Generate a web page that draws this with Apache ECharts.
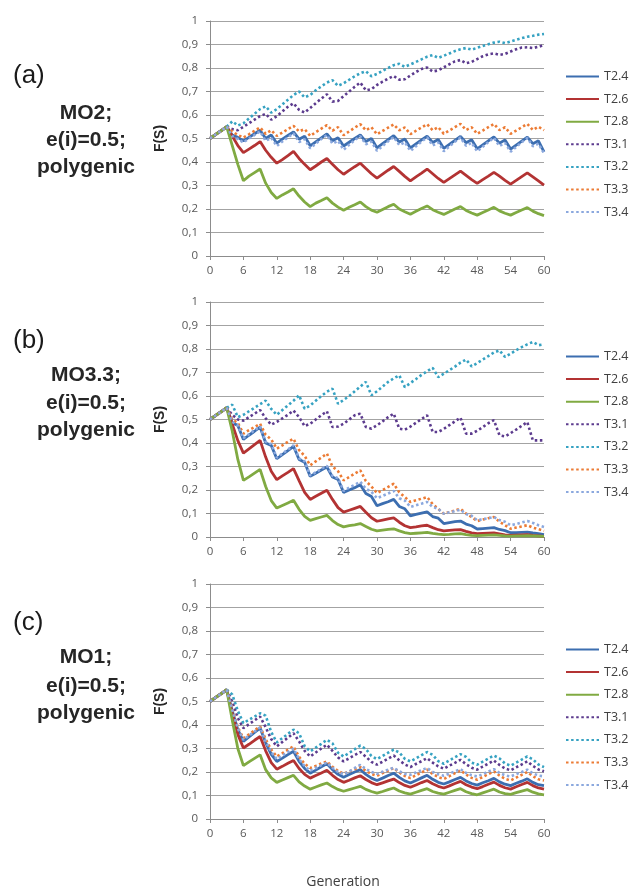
<!DOCTYPE html>
<html>
<head>
<meta charset="utf-8">
<script src="https://cdn.jsdelivr.net/npm/echarts@6/dist/echarts.min.js"></script>
<style>
  html, body { margin: 0; padding: 0; background: #fff; }
  #chart { width: 630px; height: 889px; }
</style>
</head>
<body>
<div id="chart"></div>
<script>
// series names, x ticks
const seriesNames = ['T2.4', 'T2.6', 'T2.8', 'T3.1', 'T3.2', 'T3.3', 'T3.4'];
const genTicks = [0, 6, 12, 18, 24, 30, 36, 42, 48, 54, 60];

// ---- (a) MO2 ----
const mo2_T24 = [0.5,0.517,0.533,0.55,0.515,0.505,0.49,0.505,0.52,0.535,0.5,0.515,0.48,0.497,0.513,0.528,0.497,0.51,0.469,0.486,0.503,0.52,0.49,0.503,0.468,0.484,0.5,0.515,0.487,0.5,0.46,0.478,0.495,0.512,0.485,0.498,0.46,0.477,0.494,0.51,0.483,0.496,0.458,0.475,0.492,0.509,0.482,0.495,0.456,0.473,0.49,0.507,0.48,0.494,0.455,0.472,0.489,0.506,0.478,0.49,0.443];
const mo2_T26 = [0.5,0.517,0.533,0.55,0.51,0.47,0.44,0.455,0.47,0.487,0.45,0.42,0.395,0.41,0.427,0.445,0.415,0.39,0.367,0.383,0.4,0.415,0.39,0.367,0.348,0.364,0.38,0.395,0.372,0.35,0.331,0.348,0.365,0.381,0.36,0.339,0.32,0.337,0.353,0.37,0.35,0.33,0.313,0.329,0.345,0.361,0.343,0.325,0.309,0.325,0.34,0.356,0.34,0.322,0.306,0.322,0.338,0.354,0.337,0.32,0.302];
const mo2_T28 = [0.5,0.517,0.533,0.55,0.47,0.39,0.32,0.34,0.355,0.37,0.31,0.27,0.245,0.26,0.272,0.286,0.255,0.23,0.21,0.225,0.236,0.248,0.225,0.208,0.195,0.207,0.218,0.23,0.21,0.195,0.186,0.198,0.21,0.22,0.2,0.188,0.178,0.19,0.202,0.213,0.197,0.186,0.177,0.188,0.2,0.21,0.194,0.183,0.174,0.185,0.196,0.207,0.192,0.182,0.174,0.185,0.196,0.206,0.191,0.18,0.172];
const mo2_T31 = [0.5,0.517,0.533,0.55,0.54,0.535,0.55,0.565,0.58,0.595,0.605,0.58,0.595,0.615,0.635,0.65,0.622,0.61,0.63,0.65,0.67,0.688,0.657,0.66,0.68,0.7,0.72,0.738,0.705,0.71,0.728,0.742,0.755,0.766,0.75,0.752,0.768,0.783,0.796,0.802,0.785,0.79,0.803,0.816,0.828,0.834,0.82,0.826,0.838,0.85,0.858,0.862,0.856,0.86,0.87,0.88,0.887,0.888,0.885,0.89,0.898];
const mo2_T32 = [0.5,0.517,0.533,0.55,0.573,0.555,0.565,0.585,0.605,0.625,0.637,0.61,0.625,0.645,0.665,0.685,0.7,0.675,0.685,0.705,0.722,0.738,0.748,0.724,0.735,0.75,0.765,0.778,0.786,0.765,0.775,0.788,0.8,0.812,0.818,0.805,0.815,0.826,0.837,0.848,0.855,0.843,0.852,0.862,0.872,0.88,0.885,0.878,0.886,0.894,0.901,0.908,0.912,0.906,0.913,0.92,0.927,0.933,0.937,0.942,0.945];
const mo2_T33 = [0.5,0.517,0.533,0.55,0.53,0.515,0.504,0.518,0.533,0.547,0.52,0.535,0.511,0.525,0.54,0.554,0.53,0.54,0.511,0.527,0.542,0.557,0.533,0.548,0.514,0.53,0.546,0.561,0.535,0.548,0.518,0.532,0.546,0.56,0.535,0.547,0.518,0.533,0.547,0.561,0.535,0.548,0.52,0.534,0.548,0.562,0.536,0.548,0.52,0.534,0.548,0.562,0.536,0.548,0.52,0.534,0.548,0.562,0.536,0.55,0.535];
const mo2_T34 = [0.5,0.517,0.533,0.55,0.51,0.498,0.483,0.5,0.515,0.53,0.49,0.503,0.468,0.487,0.505,0.522,0.485,0.497,0.458,0.478,0.498,0.515,0.478,0.49,0.452,0.473,0.493,0.51,0.475,0.487,0.448,0.468,0.488,0.506,0.472,0.484,0.447,0.467,0.487,0.505,0.47,0.483,0.446,0.466,0.486,0.504,0.469,0.482,0.445,0.465,0.485,0.503,0.468,0.481,0.444,0.464,0.484,0.502,0.467,0.478,0.437];

// ---- (b) MO3.3 ----
const mo33_T24 = [0.5,0.517,0.533,0.55,0.485,0.475,0.415,0.433,0.45,0.468,0.4,0.39,0.333,0.351,0.368,0.386,0.33,0.318,0.258,0.271,0.285,0.298,0.255,0.245,0.19,0.2,0.21,0.222,0.185,0.172,0.133,0.142,0.15,0.16,0.13,0.12,0.09,0.096,0.102,0.107,0.087,0.08,0.057,0.061,0.065,0.068,0.055,0.048,0.034,0.036,0.038,0.04,0.032,0.027,0.018,0.019,0.02,0.021,0.017,0.014,0.01];
const mo33_T26 = [0.5,0.517,0.533,0.55,0.48,0.41,0.357,0.375,0.393,0.411,0.34,0.28,0.244,0.26,0.275,0.291,0.24,0.19,0.16,0.173,0.186,0.199,0.16,0.125,0.106,0.114,0.122,0.13,0.105,0.082,0.067,0.072,0.077,0.081,0.063,0.048,0.04,0.043,0.047,0.05,0.04,0.031,0.026,0.028,0.03,0.031,0.024,0.018,0.014,0.015,0.016,0.017,0.013,0.009,0.007,0.008,0.009,0.01,0.007,0.005,0.003];
const mo33_T28 = [0.5,0.517,0.533,0.55,0.45,0.33,0.241,0.256,0.272,0.288,0.215,0.155,0.123,0.134,0.145,0.156,0.118,0.088,0.071,0.078,0.085,0.092,0.07,0.053,0.043,0.048,0.052,0.057,0.045,0.033,0.026,0.029,0.032,0.035,0.026,0.019,0.014,0.016,0.018,0.02,0.015,0.012,0.01,0.011,0.013,0.014,0.01,0.007,0.006,0.007,0.008,0.009,0.007,0.005,0.004,0.005,0.005,0.006,0.005,0.004,0.003];
const mo33_T31 = [0.5,0.517,0.533,0.55,0.52,0.5,0.495,0.51,0.525,0.54,0.505,0.478,0.49,0.505,0.52,0.538,0.51,0.472,0.482,0.5,0.518,0.535,0.468,0.47,0.482,0.5,0.518,0.525,0.468,0.461,0.475,0.492,0.51,0.525,0.461,0.457,0.47,0.486,0.502,0.518,0.447,0.447,0.46,0.476,0.492,0.508,0.44,0.44,0.452,0.468,0.484,0.497,0.433,0.428,0.442,0.457,0.473,0.489,0.411,0.411,0.411];
const mo33_T32 = [0.5,0.517,0.533,0.55,0.563,0.51,0.52,0.535,0.55,0.565,0.58,0.545,0.52,0.54,0.56,0.58,0.603,0.546,0.56,0.58,0.6,0.618,0.631,0.567,0.583,0.6,0.62,0.64,0.66,0.603,0.62,0.64,0.66,0.675,0.688,0.638,0.655,0.672,0.69,0.705,0.72,0.68,0.695,0.71,0.725,0.742,0.755,0.726,0.74,0.755,0.77,0.785,0.794,0.766,0.78,0.795,0.808,0.82,0.83,0.816,0.82];
const mo33_T33 = [0.5,0.517,0.533,0.55,0.5,0.485,0.44,0.455,0.468,0.482,0.435,0.415,0.376,0.39,0.405,0.418,0.37,0.345,0.305,0.322,0.338,0.355,0.3,0.28,0.241,0.255,0.27,0.284,0.238,0.215,0.187,0.2,0.213,0.227,0.19,0.17,0.149,0.156,0.163,0.17,0.14,0.12,0.099,0.106,0.113,0.12,0.1,0.085,0.068,0.074,0.08,0.085,0.065,0.05,0.035,0.04,0.045,0.05,0.04,0.033,0.026];
const mo33_T34 = [0.5,0.517,0.533,0.55,0.49,0.475,0.42,0.437,0.455,0.47,0.405,0.395,0.338,0.355,0.372,0.39,0.335,0.322,0.262,0.275,0.29,0.303,0.26,0.25,0.196,0.21,0.222,0.235,0.205,0.192,0.165,0.175,0.185,0.196,0.165,0.155,0.128,0.135,0.142,0.149,0.128,0.12,0.099,0.105,0.11,0.116,0.098,0.09,0.071,0.076,0.08,0.085,0.072,0.065,0.05,0.055,0.062,0.068,0.06,0.05,0.043];

// ---- (c) MO1 ----
const mo1_T24 = [0.5,0.517,0.533,0.55,0.46,0.38,0.33,0.349,0.368,0.387,0.325,0.275,0.245,0.259,0.274,0.288,0.245,0.215,0.195,0.208,0.222,0.235,0.21,0.19,0.178,0.189,0.2,0.21,0.19,0.174,0.164,0.174,0.185,0.195,0.177,0.162,0.153,0.164,0.175,0.186,0.169,0.156,0.149,0.158,0.168,0.177,0.162,0.151,0.144,0.154,0.163,0.173,0.158,0.148,0.142,0.152,0.161,0.171,0.156,0.146,0.142];
const mo1_T26 = [0.5,0.517,0.533,0.55,0.45,0.36,0.302,0.318,0.335,0.351,0.29,0.24,0.212,0.224,0.237,0.249,0.215,0.19,0.174,0.185,0.196,0.207,0.186,0.168,0.156,0.165,0.175,0.184,0.168,0.155,0.146,0.154,0.162,0.17,0.155,0.143,0.135,0.145,0.155,0.164,0.15,0.139,0.132,0.141,0.151,0.16,0.146,0.136,0.129,0.138,0.148,0.157,0.143,0.133,0.127,0.137,0.147,0.156,0.142,0.132,0.127];
const mo1_T28 = [0.5,0.517,0.533,0.55,0.42,0.3,0.227,0.243,0.258,0.273,0.21,0.175,0.156,0.166,0.176,0.186,0.158,0.14,0.127,0.136,0.145,0.153,0.138,0.126,0.118,0.125,0.132,0.139,0.126,0.117,0.11,0.117,0.125,0.132,0.119,0.111,0.106,0.114,0.122,0.129,0.117,0.11,0.106,0.114,0.122,0.129,0.116,0.108,0.103,0.111,0.119,0.127,0.115,0.108,0.105,0.112,0.119,0.125,0.114,0.107,0.103];
const mo1_T31 = [0.5,0.517,0.533,0.55,0.5,0.43,0.387,0.403,0.42,0.436,0.39,0.34,0.309,0.328,0.346,0.365,0.33,0.29,0.266,0.283,0.3,0.316,0.29,0.262,0.245,0.258,0.272,0.285,0.265,0.243,0.231,0.244,0.257,0.27,0.25,0.232,0.221,0.234,0.246,0.259,0.24,0.224,0.214,0.227,0.239,0.252,0.233,0.218,0.21,0.223,0.236,0.249,0.23,0.215,0.207,0.22,0.232,0.245,0.226,0.211,0.203];
const mo1_T32 = [0.5,0.517,0.533,0.55,0.53,0.46,0.408,0.422,0.436,0.45,0.44,0.37,0.326,0.344,0.362,0.38,0.365,0.31,0.288,0.304,0.32,0.337,0.322,0.282,0.266,0.281,0.297,0.312,0.298,0.268,0.255,0.268,0.282,0.295,0.283,0.256,0.245,0.258,0.272,0.285,0.273,0.246,0.235,0.249,0.263,0.276,0.264,0.24,0.231,0.244,0.257,0.27,0.258,0.236,0.227,0.24,0.253,0.266,0.254,0.232,0.221];
const mo1_T33 = [0.5,0.517,0.533,0.55,0.47,0.39,0.344,0.36,0.377,0.394,0.34,0.295,0.266,0.28,0.295,0.309,0.265,0.235,0.217,0.226,0.236,0.245,0.222,0.204,0.193,0.202,0.212,0.221,0.205,0.192,0.184,0.195,0.206,0.217,0.198,0.183,0.174,0.186,0.198,0.21,0.192,0.178,0.17,0.182,0.195,0.207,0.189,0.175,0.167,0.179,0.191,0.203,0.185,0.171,0.164,0.176,0.188,0.2,0.182,0.169,0.164];
const mo1_T34 = [0.5,0.517,0.533,0.55,0.465,0.385,0.337,0.355,0.372,0.39,0.33,0.285,0.255,0.27,0.285,0.3,0.255,0.225,0.205,0.217,0.229,0.24,0.218,0.2,0.19,0.203,0.217,0.23,0.213,0.2,0.192,0.201,0.21,0.218,0.203,0.192,0.188,0.198,0.208,0.217,0.2,0.19,0.184,0.193,0.203,0.212,0.196,0.186,0.181,0.191,0.202,0.212,0.196,0.186,0.181,0.191,0.2,0.21,0.194,0.185,0.181];

const panels = [
  { tag: '(a)', lines: ['MO2;', 'e(i)=0.5;', 'polygenic'], data: [mo2_T24, mo2_T26, mo2_T28, mo2_T31, mo2_T32, mo2_T33, mo2_T34] },
  { tag: '(b)', lines: ['MO3.3;', 'e(i)=0.5;', 'polygenic'], data: [mo33_T24, mo33_T26, mo33_T28, mo33_T31, mo33_T32, mo33_T33, mo33_T34] },
  { tag: '(c)', lines: ['MO1;', 'e(i)=0.5;', 'polygenic'], data: [mo1_T24, mo1_T26, mo1_T28, mo1_T31, mo1_T32, mo1_T33, mo1_T34] }
];

const colors = ['#3c6eb0', '#b33333', '#80aa42', '#5c3b8e', '#36a2c2', '#ec7b34', '#8ba8de'];
const dotted = [false, false, false, true, true, true, true];

// layout
const gridTops = [21, 302, 584];
const gridH = 235;
const plotLeft = 210, plotW = 334;
const legendTops = [70, 350, 643];
const tagY = [78, 343, 625];
const textY = [[113, 140, 167], [375, 403, 430], [657, 686, 713]];

const labelFont = "'Liberation Sans', Arial, sans-serif";
const tickFont = "'Open Sans', 'Liberation Sans', sans-serif";

const grids = [], xAxes = [], yAxes = [], series = [], legends = [], graphics = [];

panels.forEach((p, pi) => {
  grids.push({ left: plotLeft, top: gridTops[pi], width: plotW, height: gridH });
  xAxes.push({
    type: 'value', gridIndex: pi, min: 0, max: 60, interval: 6,
    axisLine: { show: true, lineStyle: { color: '#8c8c8c', width: 1 } },
    axisTick: { show: true, length: 4, lineStyle: { color: '#8c8c8c' } },
    splitLine: { show: false },
    axisLabel: { color: '#595959', fontSize: 11.5, fontFamily: tickFont, margin: 9 }
  });
  yAxes.push({
    type: 'value', gridIndex: pi, min: 0, max: 1, interval: 0.1,
    name: 'F(S)', nameLocation: 'middle', nameGap: 43, nameRotate: 90,
    nameTextStyle: { fontWeight: 'bold', fontSize: 14, color: '#262626', fontFamily: labelFont },
    axisLine: { show: true, lineStyle: { color: '#8c8c8c', width: 1 } },
    axisTick: { show: true, length: 4, lineStyle: { color: '#8c8c8c' } },
    splitLine: { show: true, lineStyle: { color: '#a3a3a3', width: 1 } },
    axisLabel: {
      color: '#595959', fontSize: 11.5, fontFamily: tickFont, margin: 12,
      formatter: v => String(Math.round(v * 10) / 10).replace('.', ',')
    }
  });
  p.data.forEach((vals, si) => {
    series.push({
      name: seriesNames[si], type: 'line', xAxisIndex: pi, yAxisIndex: pi,
      data: vals.map((v, g) => [g, v]),
      symbol: 'none', smooth: false, animation: false,
      lineStyle: { color: colors[si], width: dotted[si] ? 2.6 : 2.8, type: dotted[si] ? [2.5, 2.6] : 'solid' },
      itemStyle: { color: colors[si] }
    });
  });
  legends.push({
    orient: 'vertical', left: 565, top: legendTops[pi], padding: 0,
    itemWidth: 33, itemHeight: 14, itemGap: 9.6, data: seriesNames.slice(),
    itemStyle: { opacity: 0, borderWidth: 0 },
    textStyle: { color: '#404040', fontSize: 12.5, fontFamily: tickFont },
    selectedMode: false
  });
  graphics.push({
    type: 'text', left: 13, top: tagY[pi] - 15,
    style: { text: p.tag, font: '26px ' + labelFont, fill: '#1a1a1a' }
  });
  p.lines.forEach((t, li) => {
    graphics.push({
      type: 'text', x: 86, y: textY[pi][li],
      style: { text: t, font: 'bold 21px ' + labelFont, fill: '#262626', align: 'center', verticalAlign: 'middle' }
    });
  });
});

graphics.push({
  type: 'text', x: 343, y: 882,
  style: { text: 'Generation', font: '14px ' + tickFont, fill: '#404040', align: 'center', verticalAlign: 'middle' }
});

const chart = echarts.init(document.getElementById('chart'), null, { renderer: 'canvas' });
chart.setOption({
  backgroundColor: '#ffffff',
  animation: false,
  grid: grids, xAxis: xAxes, yAxis: yAxes,
  legend: legends, series: series, graphic: graphics
});
</script>
</body>
</html>
